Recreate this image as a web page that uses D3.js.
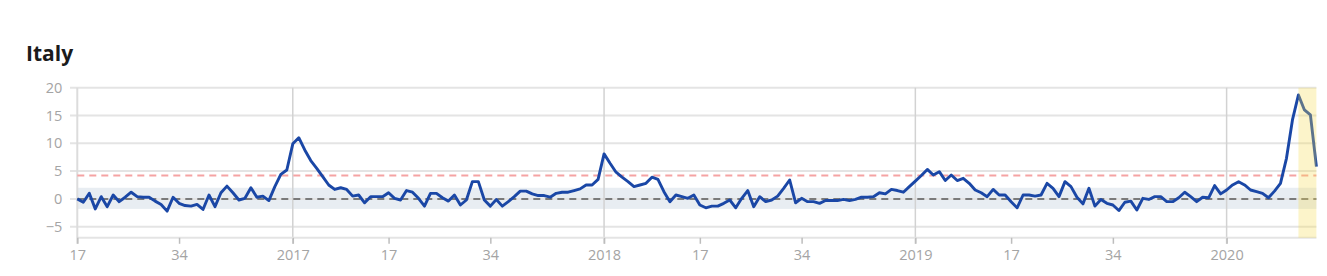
<!DOCTYPE html>
<html lang="en">
<head>
<meta charset="UTF-8">
<title>Italy</title>
<style>
    body {
        margin: 0;
        padding: 0;
        background: #fff;
        font-family: "Open Sans", Arial, sans-serif;
    }
    .title {
        font-weight: 700;
        font-size: 21px;
        fill: #1b1b1b;
    }
    .tick text {
        fill: #a4a4a4;
        font-size: 14.5px;
        font-family: "Open Sans", Arial, sans-serif;
    }
</style>
</head>
<body>
<svg id="chart" width="1327" height="276"></svg>

<script src="https://d3js.org/d3.v7.min.js"></script>
<script>
// weekly z-scores, Italy, from 2016 week 17 to 2020 week 16
const startYear = 2016;
const startWeek = 17;
const weeksPerYear = 52;

const zScores = [
    0, -0.6, 1.0, -1.8, 0.4, -1.4, 0.7, -0.5, 0.3, 1.2,
    0.4, 0.3, 0.3, -0.4, -1.0, -2.2, 0.3, -0.8, -1.2, -1.3,
    -1.0, -1.9, 0.7, -1.4, 1.1, 2.3, 1.1, -0.2, 0.1, 2.0,
    0.3, 0.5, -0.3, 2.2, 4.4, 5.2, 9.9, 11.0, 8.8, 6.9,
    5.5, 4.0, 2.5, 1.7, 2.0, 1.7, 0.5, 0.7, -0.7, 0.4,
    0.4, 0.4, 1.1, 0.1, -0.2, 1.5, 1.2, 0.1, -1.3, 1.0,
    1.0, 0.2, -0.4, 0.7, -1.1, -0.2, 3.1, 3.1, -0.2, -1.3,
    -0.1, -1.3, -0.5, 0.4, 1.4, 1.4, 0.9, 0.6, 0.6, 0.3,
    1.0, 1.2, 1.2, 1.5, 1.8, 2.5, 2.5, 3.5, 8.1, 6.4,
    4.8, 3.9, 3.1, 2.2, 2.5, 2.8, 3.9, 3.5, 1.3, -0.5,
    0.7, 0.4, 0.1, 0.7, -1.1, -1.6, -1.3, -1.3, -0.8, -0.2,
    -1.6, 0.1, 1.5, -1.4, 0.4, -0.5, -0.2, 0.5, 1.9, 3.4,
    -0.7, 0.1, -0.5, -0.5, -0.8, -0.3, -0.3, -0.3, -0.1, -0.3,
    -0.1, 0.3, 0.3, 0.4, 1.1, 0.9, 1.7, 1.5, 1.2, 2.2,
    3.2, 4.2, 5.3, 4.3, 4.9, 3.3, 4.3, 3.3, 3.7, 2.8,
    1.6, 1.1, 0.4, 1.7, 0.7, 0.7, -0.5, -1.6, 0.7, 0.7,
    0.5, 0.7, 2.8, 1.9, 0.4, 3.1, 2.2, 0.3, -0.9, 1.9,
    -1.3, -0.1, -0.8, -1.1, -2.1, -0.6, -0.4, -2.0, 0.1, -0.1,
    0.4, 0.4, -0.5, -0.5, 0.2, 1.2, 0.4, -0.5, 0.3, 0.2,
    2.4, 0.9, 1.6, 2.5, 3.1, 2.5, 1.6, 1.3, 1.0, 0.2,
    1.4, 2.8, 7.3, 14.2, 18.7, 16.0, 15.1, 5.8
];

const yTicks = [-5, 0, 5, 10, 15, 20];
const weekTicks = [17, 34];       // labelled weeks inside a year; week 1 shows the year
const normalRange = [-1.8, 2];    // shaded baseline band
const substantialLine = 4.2;      // red dashed threshold
const delayedWeeks = 3;           // last weeks still incomplete (yellow)

// build year / week for each point
const weeks = zScores.map((v, i) => {
    let w = startWeek - 1 + i;
    let y = startYear + Math.floor(w / weeksPerYear);
    return { year: y, week: (w % weeksPerYear) + 1, value: v, i: i };
});

const svg = d3.select('#chart');

const x = d3.scaleLinear()
    .domain([0, zScores.length - 1])
    .range([77.3, 1316.4]);

const y = d3.scaleLinear()
    .domain([-7, 20])
    .range([237.8, 87.7]);

const right = x.range()[1];

// title
svg.append('text')
    .attr('class', 'title')
    .attr('x', 26)
    .attr('y', 61)
    .text('Italy');

// baseline band
svg.append('rect')
    .attr('x', x(0))
    .attr('width', right - x(0))
    .attr('y', y(normalRange[1]))
    .attr('height', y(normalRange[0]) - y(normalRange[1]))
    .attr('fill', '#e8edf2');

// horizontal gridlines
svg.append('g')
    .selectAll('line')
    .data(yTicks)
    .enter()
    .append('line')
    .attr('x1', 70)
    .attr('x2', right)
    .attr('y1', d => y(d))
    .attr('y2', d => y(d))
    .attr('stroke', '#e4e4e4')
    .attr('stroke-width', 2);

// y axis labels
const yAxis = d3.axisLeft(y)
    .tickValues(yTicks)
    .tickSize(0)
    .tickPadding(15)
    .tickFormat(d => d < 0 ? '\u2212' + Math.abs(d) : d);

svg.append('g')
    .attr('transform', `translate(${x(0)},0)`)
    .call(yAxis)
    .call(g => g.select('.domain').remove());

// year start lines
const yearStarts = weeks.filter(d => d.week === 1);
svg.append('g')
    .selectAll('line')
    .data(yearStarts)
    .enter()
    .append('line')
    .attr('x1', d => x(d.i))
    .attr('x2', d => x(d.i))
    .attr('y1', y(20))
    .attr('y2', y(-7) + 6)
    .attr('stroke', '#d2d2d2')
    .attr('stroke-width', 1.5);

// bottom line and left line
svg.append('line')
    .attr('x1', x(0)).attr('x2', right)
    .attr('y1', y(-7)).attr('y2', y(-7))
    .attr('stroke', '#e4e4e4').attr('stroke-width', 2);

svg.append('line')
    .attr('x1', x(0)).attr('x2', x(0))
    .attr('y1', y(20)).attr('y2', y(-7) + 6)
    .attr('stroke', '#dcdcdc').attr('stroke-width', 2);

// x axis
const tickWeeks = weeks.filter(d => d.week === 1 || weekTicks.includes(d.week));
const xAxis = d3.axisBottom(x)
    .tickValues(tickWeeks.map(d => d.i))
    .tickSize(6)
    .tickPadding(6)
    .tickFormat(i => weeks[i].week === 1 ? weeks[i].year : weeks[i].week);

svg.append('g')
    .attr('transform', `translate(0,${y(-7)})`)
    .call(xAxis)
    .call(g => g.select('.domain').remove())
    .call(g => g.selectAll('.tick line').attr('stroke', '#bdbdbd').attr('stroke-width', 1.5));

// threshold lines
svg.append('line')
    .attr('x1', x(0)).attr('x2', right)
    .attr('y1', y(substantialLine)).attr('y2', y(substantialLine))
    .attr('stroke', '#f5a3a3')
    .attr('stroke-width', 2)
    .attr('stroke-dasharray', '7,5');

svg.append('line')
    .attr('x1', x(0)).attr('x2', right)
    .attr('y1', y(0)).attr('y2', y(0))
    .attr('stroke', '#7a7a7a')
    .attr('stroke-width', 2)
    .attr('stroke-dasharray', '7,5');

// z-score line
const line = d3.line()
    .x(d => x(d.i))
    .y(d => y(d.value));

svg.append('path')
    .datum(weeks)
    .attr('fill', 'none')
    .attr('stroke', '#1a47a6')
    .attr('stroke-width', 2.9)
    .attr('stroke-linejoin', 'round')
    .attr('d', line);

// delayed reporting band on top
const lastI = zScores.length - 1;
svg.append('rect')
    .attr('x', x(lastI - delayedWeeks))
    .attr('width', x(lastI) - x(lastI - delayedWeeks))
    .attr('y', y(20))
    .attr('height', y(-7) - y(20))
    .attr('fill', '#f5dc50')
    .attr('opacity', 0.3);
</script>
</body>
</html>
